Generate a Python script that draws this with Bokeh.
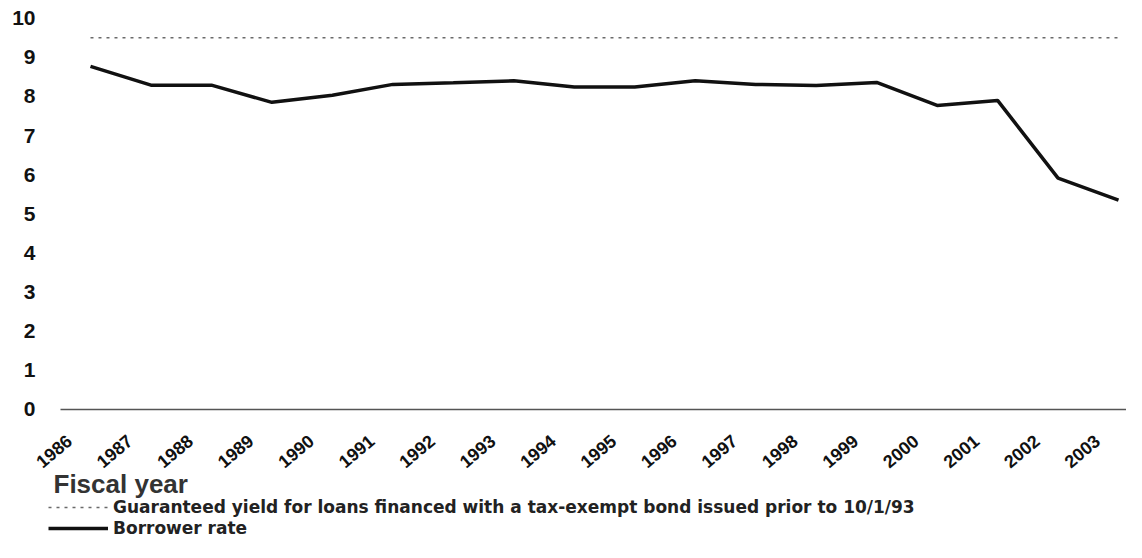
from bokeh.plotting import figure
from bokeh.models import Range1d, LinearAxis, FixedTicker, Legend, LegendItem, Label
from bokeh.embed import file_html
from bokeh.resources import INLINE

years = list(range(1986, 2004))
borrower_rate = [8.77, 8.29, 8.29, 7.85, 8.03, 8.31, 8.35, 8.40, 8.24, 8.24,
                 8.40, 8.31, 8.28, 8.36, 7.77, 7.90, 5.91, 5.35]
guaranteed_yield = [9.5] * len(years)
y_ticks = list(range(0, 11))
x_title = "Fiscal year"
series_names = ["Guaranteed yield for loans financed with a tax-exempt bond issued prior to 10/1/93",
                "Borrower rate"]

W, H = 1126, 542
x0, x1 = 1985.008, 2003.132
axis_start = 1985.504
p = figure(width=W, height=H, output_backend="svg", toolbar_location=None,
           x_range=Range1d(x0, x1), y_range=Range1d(-3.41, 10.2),
           min_border_left=30, min_border_right=0, min_border_top=10, min_border_bottom=0,
           x_axis_location=None, y_axis_location=None)
p.outline_line_color = None
p.background_fill_color = "white"
p.border_fill_color = "white"
p.grid.grid_line_color = None

shift = 0.35
p.extra_x_ranges = {"lab": Range1d(x0 + shift, x1 + shift)}

yax = LinearAxis(ticker=FixedTicker(ticks=y_ticks))
yax.axis_line_color = None
yax.major_tick_line_color = None
yax.minor_tick_line_color = None
yax.major_tick_out = 0
yax.major_label_standoff = -5
yax.major_label_text_font = "Liberation Sans"
yax.major_label_text_font_style = "bold"
yax.major_label_text_font_size = "21px"
yax.major_label_text_color = "#111111"
p.add_layout(yax, "left")

xax = LinearAxis(x_range_name="lab", ticker=FixedTicker(ticks=years), fixed_location=0,
                 bounds=(axis_start + shift, x1 + shift))
xax.axis_line_color = "#555555"
xax.axis_line_width = 1.5
xax.major_tick_line_color = None
xax.minor_tick_line_color = None
xax.major_tick_out = 0
xax.major_label_orientation = 0.70
xax.major_label_standoff = 29
xax.major_label_text_font = "Liberation Sans"
xax.major_label_text_font_style = "bold"
xax.major_label_text_font_size = "18px"
xax.major_label_text_color = "#111111"
p.add_layout(xax, "below")

r1 = p.line(years, guaranteed_yield, line_color="#6a6a6a", line_width=1.5, line_dash="3 5")
r2 = p.line(years, borrower_rate, line_color="#111111", line_width=3.5)

title = Label(x=x0, y=0, x_offset=23, y_offset=-75, text=x_title,
              text_font="Liberation Sans", text_font_style="bold", text_font_size="26px",
              text_color="#333333", text_baseline="middle", text_align="left")
p.add_layout(title)

legend = Legend(items=[LegendItem(label=series_names[0], renderers=[r1]),
                       LegendItem(label=series_names[1], renderers=[r2])],
                location=(18, 4), orientation="vertical")
legend.background_fill_alpha = 0
legend.border_line_color = None
legend.margin = 0
legend.padding = 0
legend.spacing = 1
legend.glyph_width = 60
legend.glyph_height = 20
legend.label_height = 20
legend.label_standoff = 5
legend.label_text_font = "DejaVu Sans"
legend.label_text_font_style = "bold"
legend.label_text_font_size = "17px"
legend.label_text_color = "#222222"
p.add_layout(legend, "center")

open("out.html", "w").write(file_html(p, INLINE))
